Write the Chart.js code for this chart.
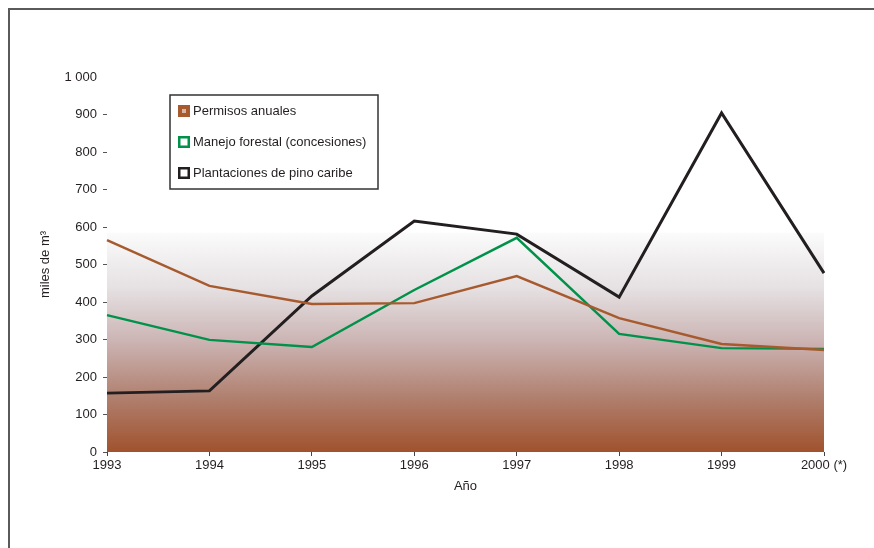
<!DOCTYPE html>
<html>
<head>
    <title>Volumen autorizado por tipo de permiso</title>
    <script src="https://cdn.jsdelivr.net/npm/chart.js"></script>
    <style>
        body { margin: 0; background: #fff; }
    </style>
</head>
<body>

<canvas id="vol_chart" width="874" height="548"></canvas>

<script>
const years = ['1993', '1994', '1995', '1996', '1997', '1998', '1999', '2000 (*)'];
const permisosAnuales = [565, 443, 395, 397, 469, 357, 288, 272];
const manejoForestal = [365, 299, 280, 432, 571, 315, 277, 275];
const plantacionesPino = [157, 163, 416, 616, 581, 413, 904, 477];
const yTicks = [0, 100, 200, 300, 400, 500, 600, 700, 800, 900, 1000];

const FONT = "'Liberation Sans', Arial, sans-serif";

// shaded band behind the lines + outer frame
const backdrop = {
    id: 'backdrop',
    beforeDatasetsDraw(chart) {
        const {ctx, chartArea, scales} = chart;
        const top = scales.y.getPixelForValue(585);
        const bottom = scales.y.getPixelForValue(0);
        const g = ctx.createLinearGradient(0, bottom, 0, top);
        g.addColorStop(0, '#a0522d');
        g.addColorStop(0.25, '#b0806f');
        g.addColorStop(0.5, '#cbb3b2');
        g.addColorStop(0.75, '#e6e1e3');
        g.addColorStop(1, '#fbfbfb');
        ctx.save();
        ctx.fillStyle = g;
        ctx.fillRect(chartArea.left, top, chartArea.right - chartArea.left, bottom - top);
        ctx.restore();
    },
    afterDraw(chart) {
        const ctx = chart.ctx;
        ctx.save();
        ctx.strokeStyle = '#5a5a5a';
        ctx.lineWidth = 2;
        ctx.beginPath();
        ctx.moveTo(9, 548);
        ctx.lineTo(9, 9);
        ctx.lineTo(874, 9);
        ctx.stroke();
        ctx.restore();
    }
};

// boxed legend inside the plot
const boxLegend = {
    id: 'boxLegend',
    afterDatasetsDraw(chart) {
        const ctx = chart.ctx;
        const x = 170, y = 95, w = 208, h = 94;
        ctx.save();
        ctx.fillStyle = '#ffffff';
        ctx.fillRect(x, y, w, h);
        ctx.strokeStyle = '#333';
        ctx.lineWidth = 1.5;
        ctx.strokeRect(x, y, w, h);
        ctx.font = '13px ' + FONT;
        ctx.textBaseline = 'middle';
        chart.data.datasets.forEach((ds, i) => {
            const cy = 111 + i * 31;
            const mx = 178, my = cy - 6;
            if (i === 0) {
                ctx.fillStyle = ds.borderColor;
                ctx.fillRect(mx, my, 12, 12);
                ctx.fillStyle = '#d8b5a5';
                ctx.fillRect(mx + 4, my + 4, 4, 4);
            } else {
                ctx.fillStyle = '#fff';
                ctx.fillRect(mx, my, 12, 12);
                ctx.strokeStyle = ds.borderColor;
                ctx.lineWidth = 2.5;
                ctx.strokeRect(mx + 1.25, my + 1.25, 9.5, 9.5);
            }
            ctx.fillStyle = '#231f20';
            ctx.fillText(ds.label, 193, cy);
        });
        ctx.restore();
    }
};

new Chart(document.getElementById('vol_chart').getContext('2d'), {
    type: 'line',
    data: {
        labels: years,
        datasets: [{
            label: 'Permisos anuales',
            data: permisosAnuales,
            borderColor: '#a65a2e',
            borderWidth: 2.5
        }, {
            label: 'Manejo forestal (concesiones)',
            data: manejoForestal,
            borderColor: '#00924a',
            borderWidth: 2.5
        }, {
            label: 'Plantaciones de pino caribe',
            data: plantacionesPino,
            borderColor: '#231f20',
            borderWidth: 3
        }]
    },
    options: {
        responsive: false,
        animation: false,
        elements: {
            point: { radius: 0 },
            line: { tension: 0, fill: false }
        },
        layout: {
            padding: { left: 34, right: 50, top: 77, bottom: 46 }
        },
        scales: {
            x: {
                offset: false,
                afterFit: s => { s.height = 50; },
                border: { display: false },
                grid: { drawOnChartArea: false, tickLength: 4, color: '#444' },
                ticks: {
                    autoSkip: false, maxRotation: 0, padding: 2,
                    color: '#231f20', font: { family: FONT, size: 13 }
                },
                title: {
                    display: true, text: 'Año', color: '#231f20',
                    font: { family: FONT, size: 13 },
                    padding: { top: 0, bottom: 8 }
                }
            },
            y: {
                min: 0,
                max: 1000,
                afterFit: s => { s.width = 73; },
                afterBuildTicks: s => { s.ticks = yTicks.map(v => ({ value: v })); },
                border: { display: false },
                grid: {
                    drawOnChartArea: false, tickLength: 4,
                    color: c => (c.tick && c.tick.value === 1000) ? 'rgba(0,0,0,0)' : '#555'
                },
                ticks: {
                    padding: 6, color: '#231f20', font: { family: FONT, size: 13 },
                    callback: v => String(v).replace(/\B(?=(\d{3})+(?!\d))/g, ' ')
                },
                title: {
                    display: true, text: 'miles de m³', color: '#231f20',
                    font: { family: FONT, size: 13 }
                }
            }
        },
        plugins: {
            legend: { display: false },
            tooltip: { enabled: false }
        }
    },
    plugins: [backdrop, boxLegend]
});
</script>

</body>
</html>
